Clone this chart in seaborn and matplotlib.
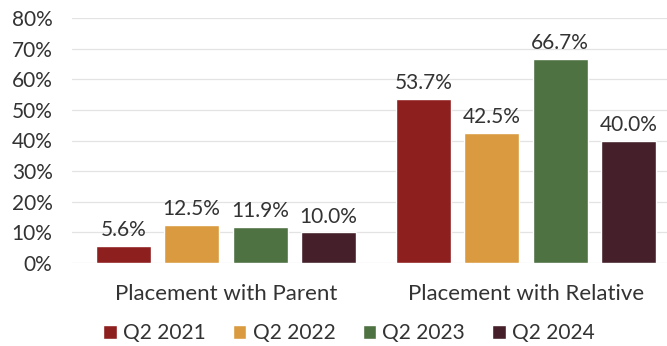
import matplotlib
matplotlib.use("Agg")
import matplotlib.pyplot as plt
import seaborn as sns
import pandas as pd
from matplotlib.patches import Patch

categories = ["Placement with Parent", "Placement with Relative"]
quarters = ["Q2 2021", "Q2 2022", "Q2 2023", "Q2 2024"]
values = {
    "Q2 2021": [5.6, 53.7],
    "Q2 2022": [12.5, 42.5],
    "Q2 2023": [11.9, 66.7],
    "Q2 2024": [10.0, 40.0],
}
colors = ["#8E1F1F", "#DA9B40", "#4F7242", "#45202B"]
yticks = [0, 10, 20, 30, 40, 50, 60, 70, 80]

rows = []
for q in quarters:
    for c, v in zip(categories, values[q]):
        rows.append({"category": c, "quarter": q, "value": v})
df = pd.DataFrame(rows)

sns.set_theme(style="white")
plt.rcParams["font.family"] = ["Lato", "DejaVu Sans"]
FS = 15
TC = "#333333"

fig = plt.figure(figsize=(6.67, 3.46), dpi=100)
ax = fig.add_axes([72/667, 1 - 263/346, (667-72)/667, (263-18)/346])
sns.barplot(data=df, x="category", y="value", hue="quarter", order=categories,
            hue_order=quarters, palette=colors, width=0.913, gap=0.2,
            saturation=1, ax=ax, legend=False)

for cont in ax.containers:
    ax.bar_label(cont, labels=[f"{v:.1f}%" for v in cont.datavalues],
                 padding=4, fontsize=FS, color=TC)

ax.set_ylim(0, 80)
ax.set_xlim(-0.513, 1.47)
ax.set_yticks(yticks)
ax.set_yticklabels([f"{t}%" for t in yticks], fontsize=FS, color=TC)
ax.tick_params(axis="y", length=0, pad=14)
ax.tick_params(axis="x", length=0, pad=15, labelsize=16, labelcolor=TC)
ax.set_xlabel("")
ax.set_ylabel("")
ax.yaxis.grid(True, color="#e3e3e3", linewidth=0.9)
ax.set_axisbelow(True)
for s in ax.spines.values():
    s.set_visible(False)

handles = [Patch(facecolor=c, label=q) for c, q in zip(colors, quarters)]
fig.legend(handles=handles, loc="center", bbox_to_anchor=(349/667, 1 - 333/346),
           ncol=4, frameon=False, fontsize=FS, handlelength=0.65, handleheight=0.65,
           handletextpad=0.3, columnspacing=1.3, labelcolor=TC)

fig.savefig("out.png", dpi=100)
